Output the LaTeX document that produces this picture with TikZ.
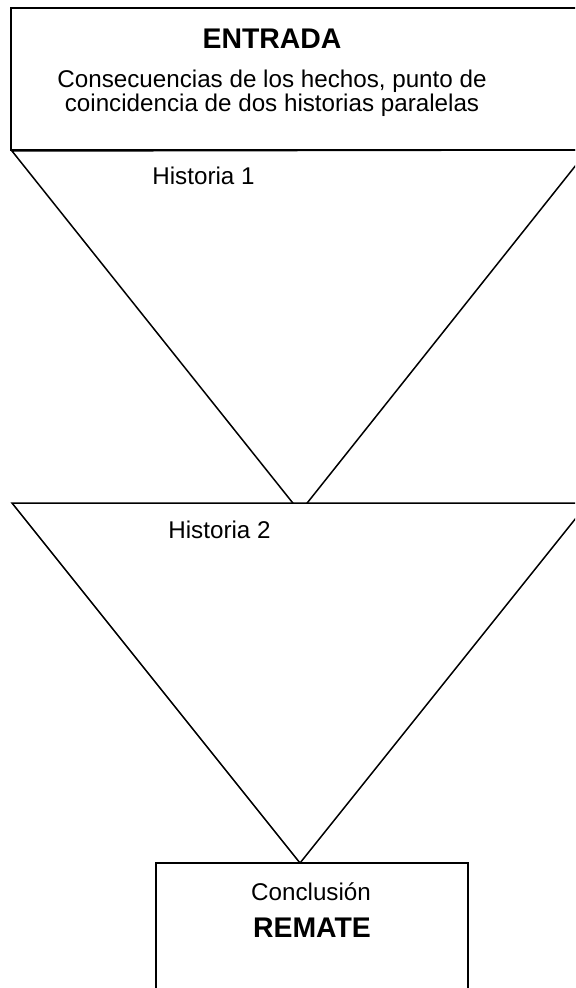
\documentclass[tikz,border=0pt]{standalone}
\usepackage{fontspec}
\setmainfont{Liberation Sans}
\tikzset{
  shapeline/.style={draw=black,line width=0.75pt,fill=white},
  plaintext/.style={inner sep=0pt,anchor=base,font=\fontsize{12.1}{14}\selectfont},
  titletext/.style={inner sep=0pt,anchor=base,font=\fontsize{14.2}{17}\selectfont\bfseries}
}
\begin{document}
\begin{tikzpicture}[x=0.5pt,y=-0.5pt]
\useasboundingbox (0,0) rectangle (575,988);
\clip (0,0) rectangle (575,988);
% entrada
\draw[shapeline] (11,8) rectangle (600,150);
% the two stories
\draw[shapeline] (12,151) -- (588,150) -- (300,512) -- cycle;
\draw[shapeline] (12,503) -- (588,503) -- (300,863) -- cycle;
% remate
\draw[shapeline] (156,863) rectangle (468,1000);
\node[titletext] (entrada) at (272,49) {ENTRADA};
\node[plaintext] (linea1) at (272,88) {Consecuencias de los hechos, punto de};
\node[plaintext] (linea2) at (272,112) {coincidencia de dos historias paralelas};
\node[plaintext,anchor=base west] (hist1) at (152,185) {Historia 1};
\node[plaintext,anchor=base west] (hist2) at (168,538) {Historia 2};
\node[plaintext] (concl) at (311,900) {Conclusión};
\node[titletext] (remate) at (312,937) {REMATE};
\end{tikzpicture}
\end{document}
